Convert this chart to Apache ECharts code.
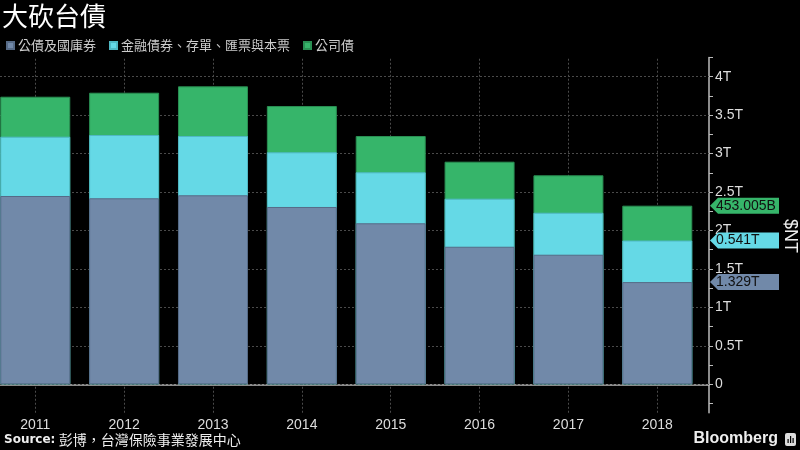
<!DOCTYPE html>
<html>
<head>
<meta charset="utf-8">
<script src="https://cdn.jsdelivr.net/npm/echarts@6/dist/echarts.min.js"></script>
<style>
  html, body { margin: 0; padding: 0; background: #000; }
  #chart { width: 800px; height: 450px; }
</style>
</head>
<body>
<div id="chart"></div>
<script>
// data (trillion NT$)
var years = [2011, 2012, 2013, 2014, 2015, 2016, 2017, 2018];
var govBonds  = [2.449, 2.419, 2.458, 2.306, 2.094, 1.789, 1.685, 1.329];
var finBonds  = [0.771, 0.823, 0.771, 0.711, 0.663, 0.625, 0.546, 0.541];
var corpBonds = [0.520, 0.550, 0.646, 0.602, 0.472, 0.481, 0.487, 0.453];
var seriesNames = ['公債及國庫券', '金融債券、存單、匯票與本票', '公司債'];
var lastTags = ['1.329T', '0.541T', '453.005B'];
var yLabelValues = [0, 0.5, 1, 1.5, 2, 2.5, 3, 3.5, 4];
var yTickValues = [-0.25, 0, 0.25, 0.5, 0.75, 1, 1.25, 1.5, 1.75, 2, 2.25, 2.5, 2.75, 3, 3.25, 3.5, 3.75, 4, 4.25];

var colors = ['#7189a9', '#65d9e6', '#36b56a'];
var borders = ['#566a86', '#4fb8c4', '#2a8f53'];
var xMin = 2010.603, xMax = 2018.582;

var chart = echarts.init(document.getElementById('chart'));

// stacking doesn't work on a value x axis, so draw cumulative bars back to front
var allValues = [govBonds, finBonds, corpBonds];
var tops = [];
for (var s = 0; s < 3; s++) {
  tops.push(years.map(function (y, i) {
    var t = 0;
    for (var k = 0; k <= s; k++) t += allValues[k][i];
    return t;
  }));
}

var series = [];
for (var s = 2; s >= 0; s--) {
  var item = {
    name: seriesNames[s],
    type: 'bar',
    barWidth: 70,
    barGap: '-100%',
    clip: false,
    itemStyle: { color: colors[s], borderColor: borders[s], borderWidth: 1 },
    data: years.map(function (y, i) { return [y, tops[s][i]]; }),
    markPoint: {
      silent: true,
      symbol: 'path://M0,8L8,0L69,0L69,16L8,16Z',
      symbolSize: [69, 16],
      symbolOffset: [35.5, 0],
      itemStyle: { color: colors[s] },
      label: {
        show: true,
        position: 'insideLeft',
        distance: 6,
        color: '#111',
        fontSize: 14,
        fontFamily: 'Liberation Sans',
        formatter: lastTags[s]
      },
      data: [{ coord: [xMax, tops[s][years.length - 1]] }]
    }
  };
  if (s === 2) {
    item.markLine = {
      silent: true,
      z: 1,
      symbol: 'none',
      label: { show: false },
      lineStyle: { color: '#4a4a4a', type: [2, 2], width: 1 },
      data: yLabelValues.map(function (v) { return { yAxis: v }; })
        .concat(years.map(function (y) { return { xAxis: y }; }))
    };
  }
  series.push(item);
}

chart.setOption({
  backgroundColor: '#000',
  animation: false,
  title: {
    text: '大砍台債',
    left: 0,
    top: 1,
    padding: [2, 2],
    textStyle: { color: '#fff', fontSize: 26, fontWeight: 'normal', fontFamily: 'Noto Sans CJK TC' }
  },
  legend: {
    left: 6,
    top: 39,
    icon: 'rect',
    itemWidth: 7,
    itemHeight: 7,
    itemGap: 13,
    padding: [0, 0],
    textStyle: { color: '#ccc', fontSize: 13, fontFamily: 'Noto Sans CJK TC', padding: [0, 0, 0, -1] },
    data: seriesNames
  },
  grid: { left: 0, right: 91, top: 57.5, bottom: 37.25, containLabel: false },
  xAxis: {
    type: 'value',
    min: xMin,
    max: xMax,
    axisLine: { show: true, lineStyle: { color: '#bbb', width: 1.5 } },
    axisTick: { show: false },
    splitLine: { show: false },
    axisLabel: {
      customValues: years,
      color: '#ddd',
      fontSize: 14,
      fontFamily: 'Liberation Sans',
      margin: 5,
      formatter: function (v) { return String(v); }
    }
  },
  yAxis: {
    type: 'value',
    position: 'right',
    min: -0.37,
    max: 4.25,
    axisLine: { show: true, lineStyle: { color: '#bbb', width: 1.5 } },
    axisTick: { show: true, customValues: yTickValues, length: 4, lineStyle: { color: '#bbb' } },
    splitLine: { show: false },
    axisLabel: {
      customValues: yLabelValues,
      color: '#ddd',
      fontSize: 14,
      fontFamily: 'Liberation Sans',
      margin: 6,
      formatter: function (v) { return v === 0 ? '0' : v + 'T'; }
    }
  },
  graphic: [
    {
      type: 'text', left: 4, top: 433,
      style: {
        text: '{b|Source:} {c|彭博，台灣保險事業發展中心}',
        fill: '#eee',
        rich: {
          b: { fontSize: 12, fontWeight: 'bold', fontFamily: 'DejaVu Sans', fill: '#eee' },
          c: { fontSize: 14, fontFamily: 'Noto Sans CJK TC', fill: '#eee' }
        }
      }
    },
    {
      type: 'text', x: 790, y: 236, rotation: -Math.PI / 2,
      style: { text: '$NT', fill: '#eee', fontSize: 18, fontFamily: 'Liberation Sans', align: 'center', verticalAlign: 'middle' }
    },
    {
      type: 'text', right: 22, top: 431,
      style: { text: 'Bloomberg', fill: '#eee', fontSize: 16, fontWeight: 'bold', fontFamily: 'Liberation Sans' }
    },
    {
      type: 'group', left: 785, top: 433,
      children: [
        { type: 'rect', shape: { x: 0, y: 0, width: 11, height: 13, r: 2 }, style: { fill: '#ddd' } },
        { type: 'rect', shape: { x: 2.5, y: 6, width: 1.2, height: 4 }, style: { fill: '#000' } },
        { type: 'rect', shape: { x: 5, y: 3, width: 1.2, height: 7 }, style: { fill: '#000' } },
        { type: 'rect', shape: { x: 7.5, y: 5, width: 1.2, height: 5 }, style: { fill: '#000' } }
      ]
    }
  ],
  series: series
});
</script>
</body>
</html>
